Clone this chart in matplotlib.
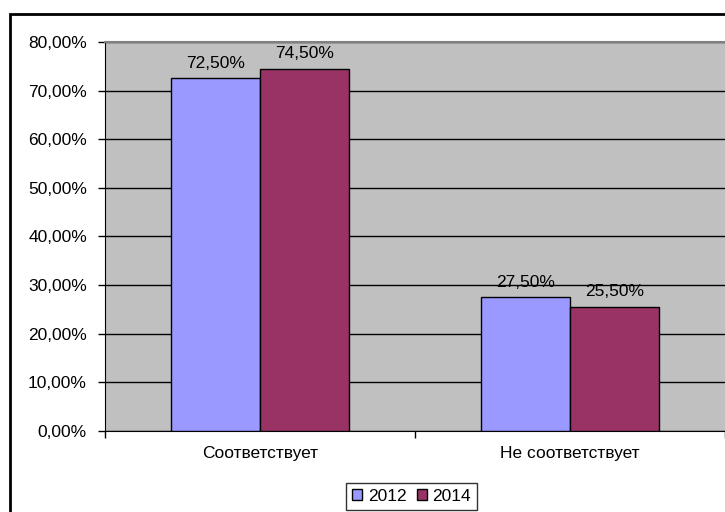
import matplotlib.pyplot as plt
import matplotlib.patches as mpatches
import numpy as np

plt.rcParams['font.family'] = ['Liberation Sans', 'DejaVu Sans']

# данные
categories = ["Соответствует", "Не соответствует"]
years = ["2012", "2014"]
values_2012 = [72.5, 27.5]
values_2014 = [74.5, 25.5]
colors = ["#9999FF", "#993366"]

fig = plt.figure(figsize=(7.25, 5.12), dpi=100)
ax = fig.add_axes([105 / 725, 81 / 512, 620 / 725, 389 / 512])

# рамка вокруг всей диаграммы (справа и снизу обрезана)
fig.patches.append(mpatches.Rectangle((10 / 725, -0.1), 1.2, (512 - 14) / 512 + 0.1,
                                      transform=fig.transFigure, fill=False,
                                      edgecolor="black", linewidth=2, zorder=0))

fs = 12.5
x = np.arange(len(categories))
w = 0.2857
series = [values_2012, values_2014]
for i, (vals, col, yr) in enumerate(zip(series, colors, years)):
    pos = x + (i - 0.5) * w
    bars = ax.bar(pos, vals, width=w, color=col, edgecolor="black", linewidth=1,
                  label=yr, zorder=3)
    for b, v in zip(bars, vals):
        ax.text(b.get_x() + b.get_width() / 2, v + 1.6, f"{v:.2f}%".replace(".", ","),
                ha="center", va="bottom", fontsize=fs, zorder=4)

ax.set_facecolor("#C0C0C0")
ax.set_xlim(-0.5, 1.5)
ax.set_ylim(0, 80)
ax.set_yticks(np.arange(0, 81, 10))
ax.set_yticklabels([f"{t:.2f}%".replace(".", ",") for t in np.arange(0, 81, 10)])
ax.yaxis.grid(True, color="black", linewidth=1)
ax.set_axisbelow(True)

ax.set_xticks([-0.5, 0.5, 1.5])
ax.set_xticklabels([])
ax.set_xticks(x, minor=True)
ax.set_xticklabels(categories, minor=True)
ax.tick_params(axis="x", which="minor", length=0, pad=11, labelsize=fs)
ax.tick_params(axis="x", which="major", length=5, width=1, direction="out")
ax.tick_params(axis="y", length=5, width=1, direction="out", labelsize=fs, pad=8)

ax.spines["top"].set_color("#808080")
ax.spines["top"].set_linewidth(1.5)
ax.spines["right"].set_visible(False)
ax.spines["left"].set_color("black")
ax.spines["bottom"].set_color("black")

handles = [mpatches.Patch(facecolor=c, edgecolor="black", linewidth=1) for c in colors]
leg = fig.legend(handles, years, loc="upper left", bbox_to_anchor=(346 / 725, 1 - 483 / 512),
                 ncol=2, frameon=True, fancybox=False, edgecolor="black",
                 fontsize=fs, handlelength=0.6, handleheight=0.6,
                 handletextpad=0.3, columnspacing=0.6, borderpad=0.35, borderaxespad=0)
leg.get_frame().set_linewidth(1)

fig.savefig("out.png", dpi=100)
